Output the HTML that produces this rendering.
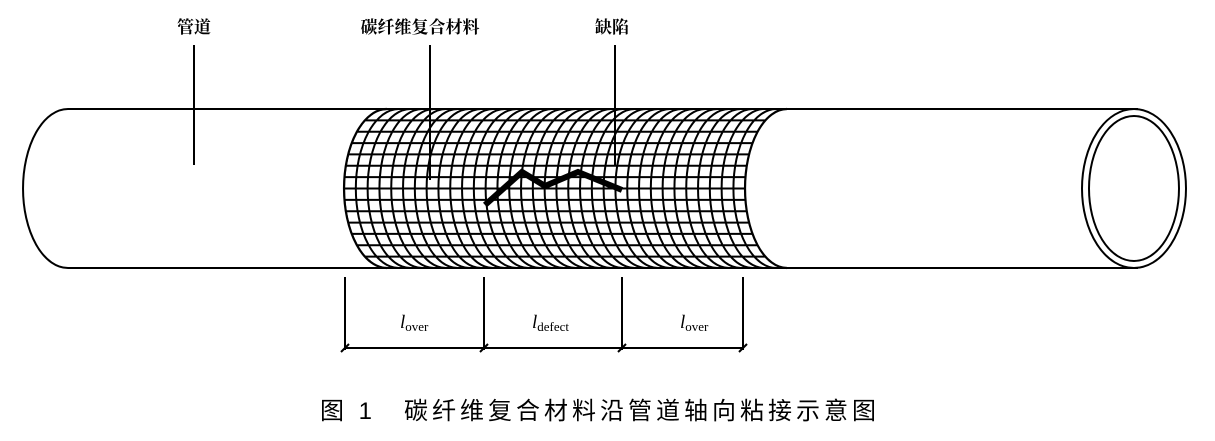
<!DOCTYPE html>
<html><head><meta charset="utf-8"><style>
body{margin:0;background:#fff;width:1215px;height:441px;overflow:hidden}
svg{display:block}
</style></head><body>
<svg width="1215" height="441" viewBox="0 0 1215 441" xmlns="http://www.w3.org/2000/svg">
<defs>
<clipPath id="mesh">
<path d="M387,109 A43,79.5 0 0 0 387,268 L787,268 A42,79.5 0 0 1 787,109 Z"/>
</clipPath>
</defs>
<g fill="none" stroke="#000">
<path d="M68,109 L1138,109 M68,268 L1138,268" stroke-width="2"/>
<path d="M68,109 A45,79.5 0 0 0 68,268" stroke-width="2"/>
<ellipse cx="1134" cy="188.5" rx="52" ry="79.5" stroke-width="2" fill="#fff"/>
<ellipse cx="1134" cy="188.5" rx="45" ry="72.5" stroke-width="2"/>
<g clip-path="url(#mesh)" stroke-width="2">
<rect x="340" y="105" width="460" height="170" fill="#fff" stroke="none"/>
<g id="cols"></g>
</g>
<path d="M387,109 A43,79.5 0 0 0 387,268" stroke-width="2.2"/>
<path d="M787,109 A42,79.5 0 0 0 787,268" stroke-width="2.2"/>
<path d="M194,45 V165 M430,45 V180 M615,45 V165" stroke-width="2"/>
<path d="M485,205 L522,172 L545,186 L578,172 L622,190" stroke-width="6" stroke-linejoin="miter"/>
<path d="M345,277 V350 M484,277 V350 M622,277 V350 M743,277 V350 M345,348 H743" stroke-width="2"/>
<path d="M341,352 L349,344 M480,352 L488,344 M618,352 L626,344 M739,352 L747,344" stroke-width="2"/>
</g>
<script>
(function(){
var g=document.getElementById('cols'),ns='http://www.w3.org/2000/svg',s='';
for(var x=387;x<800;x+=11.8){s+='M'+x.toFixed(1)+',109 A43,79.5 0 0 0 '+x.toFixed(1)+',268 ';}
for(var i=0;i<=14;i++){var y=109+159*i/14;s+='M330,'+y.toFixed(1)+' H800 ';}
var p=document.createElementNS(ns,'path');p.setAttribute('d',s);g.appendChild(p);
})();
</script>
<g font-family="Liberation Serif, 'Noto Serif CJK SC', serif" font-size="17" font-weight="bold" text-anchor="middle" fill="#000">
<text x="194" y="33">管道</text>
<text x="420" y="33">碳纤维复合材料</text>
<text x="612" y="33">缺陷</text>
</g>
<g font-family="Liberation Serif, serif" fill="#000" font-size="19">
<text x="400" y="328"><tspan font-style="italic">l</tspan><tspan font-size="13" dy="3">over</tspan></text>
<text x="532" y="328"><tspan font-style="italic">l</tspan><tspan font-size="13" dy="3">defect</tspan></text>
<text x="680" y="328"><tspan font-style="italic">l</tspan><tspan font-size="13" dy="3">over</tspan></text>
</g>
<text x="600" y="419" text-anchor="middle" font-family="Liberation Sans, 'Noto Sans CJK SC', sans-serif" font-size="24" letter-spacing="4" fill="#000">图 1　碳纤维复合材料沿管道轴向粘接示意图</text>
</svg>
</body></html>
